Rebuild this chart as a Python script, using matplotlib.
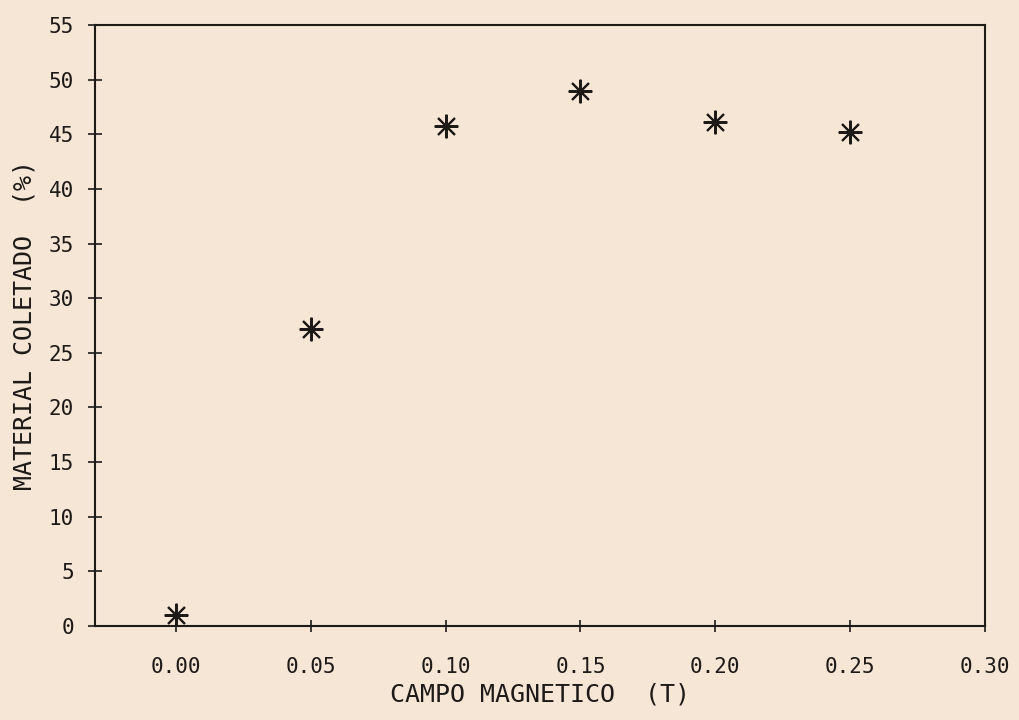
"""Material coletado vs campo magnetico - scatter with asterisk markers."""

import matplotlib
matplotlib.use("Agg")
import matplotlib.pyplot as plt
import numpy as np

# data
campo = [0.00, 0.05, 0.10, 0.15, 0.20, 0.25]
material = [1.0, 27.2, 45.8, 49.0, 46.1, 45.2]

x_ticks = [0.00, 0.05, 0.10, 0.15, 0.20, 0.25, 0.30]
x_ticklabels = ["0.00", "0.05", "0.10", "0.15", "0.20", "0.25", "0.30"]
y_ticks = list(range(0, 56, 5))

paper = "#f5e6d6"
ink = "#1e1a18"
font = "DejaVu Sans Mono"

fig = plt.figure(figsize=(10.19, 7.2), dpi=100, facecolor=paper)
ax = fig.add_axes([0.0932, 0.1306, 0.8734, 0.8347], facecolor=paper)

ax.plot(campo, material, linestyle="none", marker=(8, 2, 0),
        markersize=17, markeredgewidth=1.5, color=ink)

ax.set_xlim(-0.03, 0.30)
ax.set_ylim(0, 55)
ax.set_xticks(x_ticks)
ax.set_xticklabels(x_ticklabels)
ax.set_yticks(y_ticks)

for s in ax.spines.values():
    s.set_linewidth(1.5)
    s.set_color(ink)

ax.tick_params(axis="y", direction="inout", length=10, width=1.2,
               pad=10, colors=ink, labelsize=15)
ax.tick_params(axis="x", direction="inout", length=8, width=1.2,
               pad=18, colors=ink, labelsize=15)
for lab in ax.get_xticklabels() + ax.get_yticklabels():
    lab.set_family(font)

ax.set_xlabel("CAMPO MAGNETICO  (T)", family=font, fontsize=18,
              color=ink, labelpad=4)
ax.set_ylabel("MATERIAL COLETADO  (%)", family=font, fontsize=18,
              color=ink, labelpad=9)

fig.savefig("out.png", dpi=100, facecolor=paper)
